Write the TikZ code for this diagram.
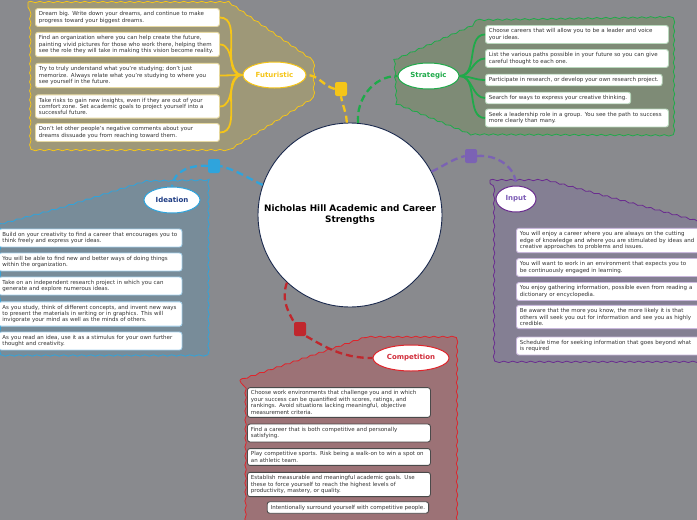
\documentclass[tikz,border=0pt]{standalone}
\usepackage{fontspec}
\setmainfont{DejaVu Sans}
\usetikzlibrary{decorations.pathmorphing,shapes.geometric}
\definecolor{bg}{HTML}{898A8E}
\definecolor{txtc}{HTML}{333333}
\definecolor{yel}{HTML}{F5C518}
\definecolor{yelfill}{HTML}{9E9878}
\definecolor{yelbox}{HTML}{E6D9A2}
\definecolor{grn}{HTML}{1FAA4A}
\definecolor{grnfill}{HTML}{7E8B76}
\definecolor{grnbox}{HTML}{B8D8BC}
\definecolor{blu}{HTML}{2FA4DC}
\definecolor{blufill}{HTML}{788C99}
\definecolor{blubox}{HTML}{A8D4EE}
\definecolor{navy}{HTML}{1E3C84}
\definecolor{pur}{HTML}{6A2C8F}
\definecolor{purdash}{HTML}{7B62B4}
\definecolor{purtxt}{HTML}{7B5BB5}
\definecolor{purfill}{HTML}{847F93}
\definecolor{purbox}{HTML}{C9B8DC}
\definecolor{red1}{HTML}{E0242B}
\definecolor{reddash}{HTML}{C0272D}
\definecolor{redtxt}{HTML}{D12C3A}
\definecolor{redfill}{HTML}{9C7276}
\definecolor{redbox}{HTML}{4A4A4A}
\definecolor{circ}{HTML}{1B2A4E}
\tikzset{
  region/.style={decorate, decoration={snake,segment length=9pt,amplitude=0.7pt}, line width=0.8pt},
  txtbox/.style={draw, fill=white, rounded corners=2.5pt, line width=0.9pt, inner xsep=3.5pt, inner ysep=3.1pt, align=left, anchor=west, text=txtc, font=\fontsize{5.5}{6.4}\selectfont},
  topic/.style={ellipse, draw, fill=white, line width=1pt, inner sep=0pt, font=\fontsize{7}{8}\selectfont\bfseries},
  marker/.style={rounded corners=2pt, minimum width=12pt, minimum height=14pt, inner sep=0pt},
  dashlink/.style={line width=2.3pt, dash pattern=on 7pt off 4pt},
  branch/.style={line width=1.8pt},
}
\begin{document}
\begin{tikzpicture}[x=1pt,y=-1pt]
\useasboundingbox[fill=bg] (0,0) rectangle (697,520);

% ---------- regions ----------
\draw[region, draw=yel, fill=yelfill] (28,2) -- (228,2) -- (312,60) -- (312,96) -- (228,148) -- (28,148) -- cycle;
\draw[region, draw=grn, fill=grnfill] (477,20) -- (673,17) -- (673,133) -- (473,132) -- (395,100) -- (393,57) -- cycle;
\draw[region, draw=blu, fill=blufill] (-3,225) -- (60,208) -- (143,182) -- (207,181) -- (207,355) -- (-3,355) -- cycle;
\draw[region, draw=pur, fill=purfill] (490,180) -- (545,180) -- (700,222) -- (700,361) -- (490,361) -- cycle;
\draw[region, draw=red1, fill=redfill] (240,380) -- (363,338) -- (455,338) -- (455,524) -- (240,524) -- cycle;

% ---------- centre ----------
\node[circle, draw=circ, fill=white, line width=0.9pt, minimum size=184pt, inner sep=0pt, align=center,
      font=\fontsize{8.9}{11}\selectfont\bfseries] (c) at (350,215) {Nicholas Hill Academic and Career\\Strengths};

% ---------- topics ----------
\node[topic, draw=yel, text=yel, minimum width=63pt, minimum height=26pt] (fut) at (274.5,75) {Futuristic};
\node[topic, draw=grn, text=grn, minimum width=61pt, minimum height=26pt] (str) at (428.5,76) {Strategic};
\node[topic, draw=blu, text=navy, minimum width=56pt, minimum height=26pt] (ide) at (172,200) {Ideation};
\node[topic, draw=pur, text=purtxt, minimum width=40pt, minimum height=26pt] (inp) at (516,199) {Input};
\node[topic, draw=red1, text=redtxt, minimum width=76pt, minimum height=26pt] (comp) at (411,358) {Competition};

% ---------- markers ----------
\node[marker, fill=yel] (sqY) at (341,89) {};
\node[marker, fill=blu] (sqB) at (214,166) {};
\node[marker, fill=purdash] (sqP) at (471,156) {};
\node[marker, fill=reddash] (sqR) at (300,329) {};

% ---------- dashed links ----------
\draw[dashlink, yel] (c.92) to[out=92,in=-80] (sqY.south);
\draw[dashlink, yel] (sqY.west) to[out=165,in=0] (fut.east);
\draw[dashlink, grn] (c.85.6) to[out=95,in=180] (str.west);
\draw[dashlink, blu] (c.161) to[out=155,in=-15] (sqB.east);
\draw[dashlink, blu] (sqB.west) to[out=175,in=85] (ide.north);
\draw[dashlink, purdash] (c.28) to[out=25,in=195] (sqP.west);
\draw[dashlink, purdash] (sqP.east) to[out=5,in=90] (inp.north);
\draw[dashlink, reddash] (c.227) to[out=-110,in=120] (sqR.north west);
\draw[dashlink, reddash] (sqR.south east) to[out=-30,in=180] (comp.west);

% ---------- Futuristic boxes ----------
\begin{scope}[every node/.append style={txtbox, draw=yelbox, text width=177pt}]
\node (f1) at (35,17.5) {Dream big. Write down your dreams, and continue to make\\progress toward your biggest dreams.};
\node (f2) at (35,44.5) {Find an organization where you can help create the future,\\painting vivid pictures for those who work there, helping them\\see the role they will take in making this vision become reality.};
\node (f3) at (35,75.5) {Try to truly understand what you're studying; don't just\\memorize. Always relate what you're studying to where you\\see yourself in the future.};
\node (f4) at (35,106.5) {Take risks to gain new insights, even if they are out of your\\comfort zone. Set academic goals to project yourself into a\\successful future.};
\node (f5) at (35,132.5) {Don't let other people's negative comments about your\\dreams dissuade you from reaching toward them.};
\end{scope}
\foreach \b in {f1,f2,f3,f4,f5} \draw[branch, yel] (fut.west) to[out=180,in=0] (\b.east);

% ---------- Strategic boxes ----------
\node[txtbox, draw=grnbox, text width=176pt] (s1) at (485,34.5) {Choose careers that will allow you to be a leader and voice\\your ideas.};
\node[txtbox, draw=grnbox, text width=176pt] (s2) at (485,58.5) {List the various paths possible in your future so you can give\\careful thought to each one.};
\node[txtbox, draw=grnbox] (s3) at (485,80) {Participate in research, or develop your own research project.};
\node[txtbox, draw=grnbox] (s4) at (485,98) {Search for ways to express your creative thinking.};
\node[txtbox, draw=grnbox, text width=176pt] (s5) at (485,118) {Seek a leadership role in a group. You see the path to success\\more clearly than many.};
\foreach \b in {s1,s2,s3,s4,s5} \draw[branch, grn] (str.east) to[out=0,in=180] (\b.west);

% ---------- Ideation boxes ----------
\begin{scope}[every node/.append style={txtbox, draw=blubox, text width=176pt}]
\node (i1) at (-1.5,238) {Build on your creativity to find a career that encourages you to\\think freely and express your ideas.};
\node (i2) at (-1.5,262) {You will be able to find new and better ways of doing things\\within the organization.};
\node (i3) at (-1.5,286) {Take on an independent research project in which you can\\generate and explore numerous ideas.};
\node (i4) at (-1.5,314) {As you study, think of different concepts, and invent new ways\\to present the materials in writing or in graphics. This will\\invigorate your mind as well as the minds of others.};
\node (i5) at (-1.5,341) {As you read an idea, use it as a stimulus for your own further\\thought and creativity.};
\end{scope}

% ---------- Input boxes ----------
\begin{scope}[every node/.append style={txtbox, draw=purbox, text width=178pt}]
\node (n1) at (516,240.5) {You will enjoy a career where you are always on the cutting\\edge of knowledge and where you are stimulated by ideas and\\creative approaches to problems and issues.};
\node (n2) at (516,267.5) {You will want to work in an environment that expects you to\\be continuously engaged in learning.};
\node (n3) at (516,291.5) {You enjoy gathering information, possible even from reading a\\dictionary or encyclopedia.};
\node (n4) at (516,317) {Be aware that the more you know, the more likely it is that\\others will seek you out for information and see you as highly\\credible.};
\node (n5) at (516,346) {Schedule time for seeking information that goes beyond what\\is required};
\end{scope}

% ---------- Competition boxes ----------
\begin{scope}[every node/.append style={txtbox, draw=redbox}]
\node[text width=176pt] (r1) at (247,402.5) {Choose work environments that challenge you and in which\\your success can be quantified with scores, ratings, and\\rankings. Avoid situations lacking meaningful, objective\\measurement criteria.};
\node[text width=176pt] (r2) at (247,433) {Find a career that is both competitive and personally\\satisfying.};
\node[text width=176pt] (r3) at (247,457) {Play competitive sports. Risk being a walk-on to win a spot on\\an athletic team.};
\node[text width=176pt] (r4) at (247,484.5) {Establish measurable and meaningful academic goals. Use\\these to force yourself to reach the highest levels of\\productivity, mastery, or quality.};
\node[anchor=east] (r5) at (429,507.5) {Intentionally surround yourself with competitive people.};
\end{scope}
\end{tikzpicture}
\end{document}
